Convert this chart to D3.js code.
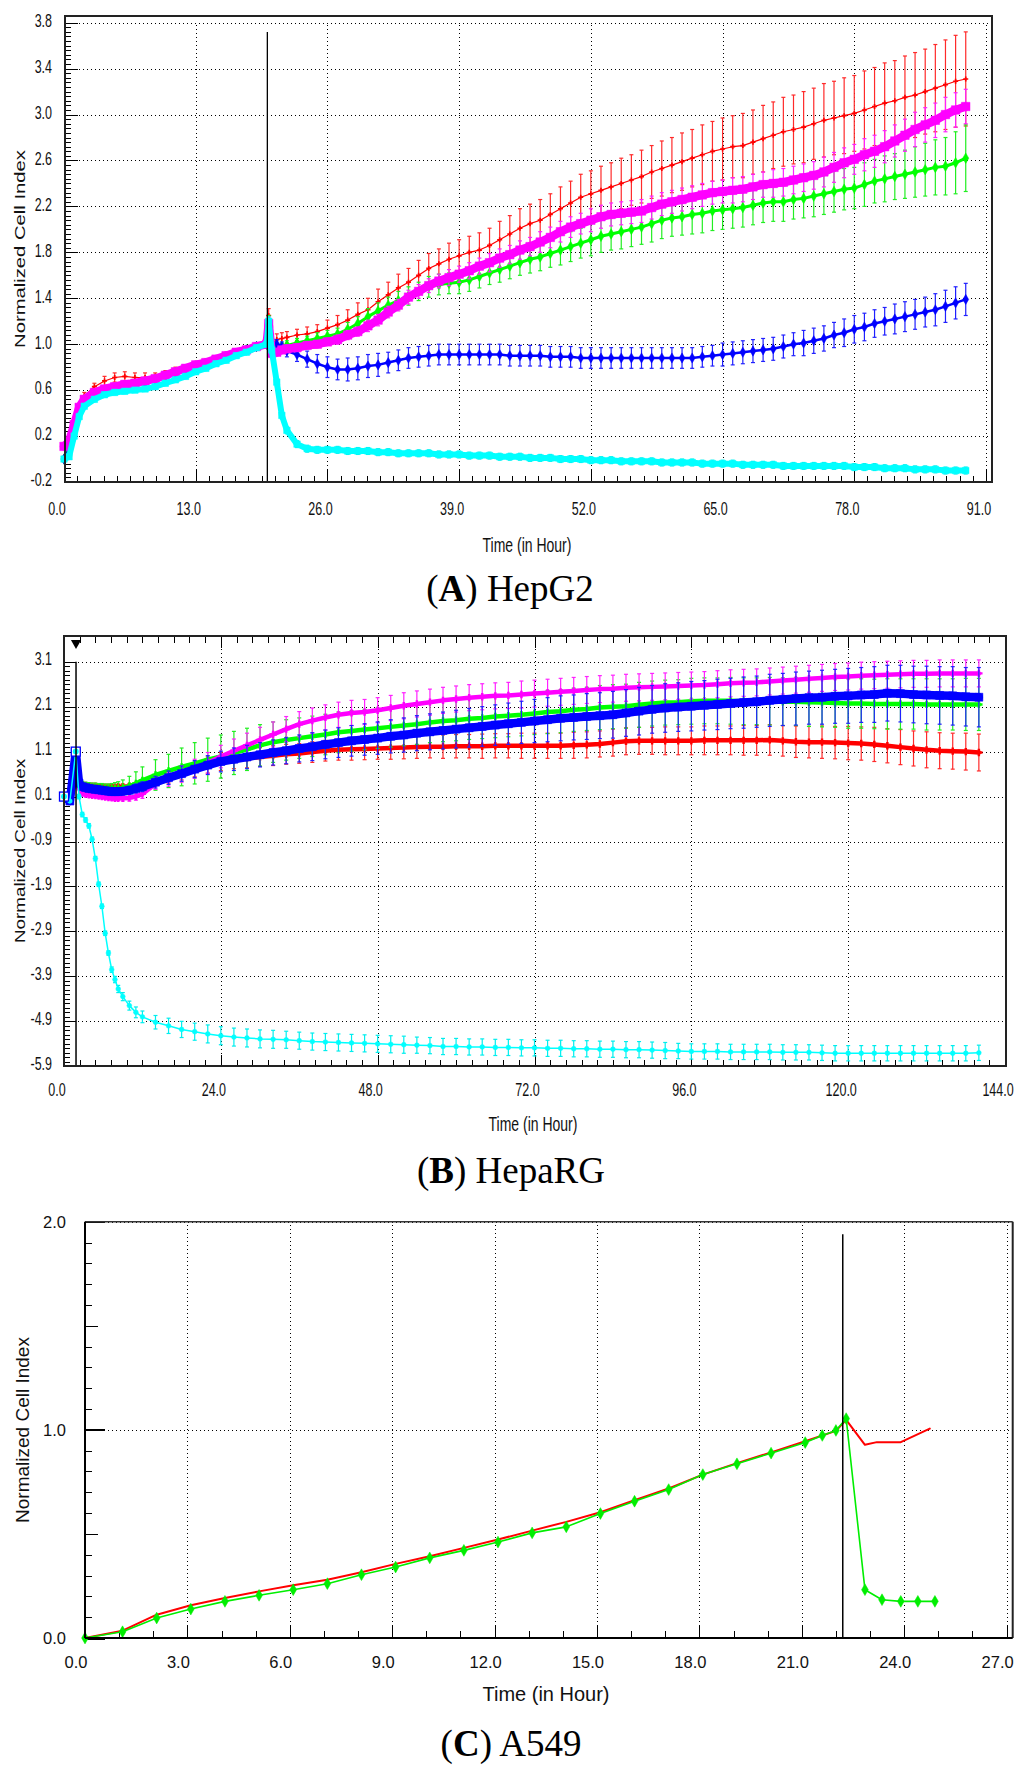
<!DOCTYPE html>
<html><head><meta charset="utf-8">
<script src="https://cdn.jsdelivr.net/npm/d3@7/dist/d3.min.js"></script>
<style>html,body{margin:0;padding:0;background:#fff}svg{display:block}</style>
</head><body>
<svg id="chart" width="1024" height="1768"></svg>
<script>
// ===================== DATA =====================
// ---- Panel A : HepG2 ----
const xTicksA = [0, 13, 26, 39, 52, 65, 78, 91];
const yTicksA = [-0.2, 0.2, 0.6, 1.0, 1.4, 1.8, 2.2, 2.6, 3.0, 3.4, 3.8];
const treatA = 20.07;
const tA = [0,0.5,1,1.5,2,
  3,4,5,6,7,8,9,10,11,12,13,14,15,16,17,18,19,
  20,20.2,20.5,21,21.5,
  22,23,24,25,26,27,28,29,30,31,
  32,33,34,35,36,37,38,39,40,41,
  42,43,44,45,46,47,48,49,50,51,
  52,53,54,55,56,57,58,59,60,61,
  62,63,64,65,66,67,68,69,70,71,
  72,73,74,75,76,77,78,79,80,81,
  82,83,84,85,86,87,88,89];
const redA = [0.0,0.12,0.3,0.45,0.55,
  0.63,0.68,0.71,0.72,0.71,0.71,0.72,0.74,0.77,0.79,0.82,0.84,0.87,0.9,0.92,0.95,0.98,
  1.0,1.25,1.0,1.04,1.05,
  1.06,1.08,1.09,1.11,1.14,1.17,1.21,1.26,1.3,1.37,
  1.43,1.49,1.54,1.6,1.66,1.7,1.74,1.77,1.8,1.82,
  1.86,1.91,1.96,2.01,2.05,2.08,2.13,2.18,2.23,2.28,
  2.31,2.34,2.37,2.4,2.43,2.46,2.5,2.53,2.56,2.59,
  2.62,2.65,2.68,2.7,2.72,2.73,2.76,2.79,2.82,2.85,
  2.87,2.89,2.92,2.95,2.97,2.99,3.01,3.04,3.07,3.1,
  3.12,3.15,3.17,3.2,3.23,3.26,3.29,3.31];
const redSdA = [0.01,0.02,0.03,0.03,0.03,
  0.03,0.04,0.04,0.04,0.04,0.04,0.03,0.03,0.03,0.03,0.03,0.03,0.03,0.03,0.03,0.03,0.03,
  0.02,0.06,0.04,0.05,0.05,
  0.05,0.05,0.06,0.06,0.07,0.08,0.09,0.1,0.1,0.11,
  0.11,0.12,0.12,0.13,0.13,0.13,0.14,0.14,0.14,0.15,
  0.15,0.16,0.16,0.17,0.17,0.18,0.18,0.19,0.19,0.2,
  0.2,0.21,0.21,0.22,0.22,0.23,0.23,0.24,0.24,0.25,
  0.25,0.26,0.26,0.27,0.27,0.28,0.28,0.29,0.29,0.3,
  0.3,0.31,0.31,0.32,0.32,0.33,0.33,0.34,0.34,0.35,
  0.35,0.36,0.37,0.37,0.38,0.39,0.4,0.41];
const magentaA = [0.11,0.15,0.3,0.45,0.52,
  0.58,0.61,0.63,0.65,0.66,0.68,0.7,0.73,0.76,0.79,0.82,0.84,0.87,0.9,0.93,0.95,0.98,
  1.0,1.18,0.92,0.93,0.95,
  0.96,0.97,0.99,1.0,1.02,1.04,1.08,1.11,1.16,1.21,
  1.28,1.34,1.41,1.46,1.51,1.55,1.58,1.61,1.64,1.68,
  1.71,1.75,1.78,1.82,1.85,1.89,1.93,1.98,2.02,2.05,
  2.08,2.11,2.13,2.14,2.15,2.16,2.19,2.22,2.24,2.26,
  2.28,2.3,2.32,2.33,2.34,2.35,2.37,2.39,2.4,2.41,
  2.43,2.45,2.47,2.5,2.54,2.58,2.61,2.65,2.68,2.72,
  2.77,2.82,2.87,2.91,2.95,3.0,3.04,3.07];
const magentaSdA = [0.01,0.02,0.02,0.02,0.02,
  0.02,0.02,0.02,0.02,0.02,0.02,0.02,0.02,0.02,0.02,0.02,0.02,0.02,0.02,0.02,0.02,0.02,
  0.02,0.05,0.03,0.03,0.03,
  0.03,0.03,0.03,0.03,0.03,0.04,0.04,0.04,0.05,0.05,
  0.05,0.05,0.06,0.06,0.06,0.06,0.07,0.07,0.07,0.07,
  0.08,0.08,0.08,0.08,0.08,0.09,0.09,0.09,0.09,0.09,
  0.1,0.1,0.1,0.1,0.1,0.1,0.1,0.1,0.1,0.1,
  0.1,0.1,0.1,0.1,0.11,0.11,0.11,0.11,0.12,0.12,
  0.12,0.12,0.12,0.13,0.13,0.13,0.13,0.14,0.14,0.14,
  0.14,0.14,0.15,0.15,0.15,0.15,0.15,0.15];
const greenA = [0.0,0.1,0.28,0.43,0.5,
  0.56,0.59,0.61,0.63,0.64,0.66,0.69,0.72,0.75,0.78,0.81,0.83,0.86,0.89,0.92,0.95,0.98,
  1.0,1.2,0.95,0.96,0.98,
  0.99,1.01,1.03,1.05,1.07,1.09,1.13,1.18,1.24,1.29,
  1.34,1.38,1.42,1.46,1.5,1.52,1.53,1.54,1.56,1.59,
  1.62,1.65,1.68,1.71,1.74,1.76,1.79,1.82,1.85,1.88,
  1.91,1.94,1.96,1.98,2.0,2.02,2.05,2.08,2.1,2.11,
  2.13,2.14,2.16,2.17,2.18,2.19,2.21,2.23,2.24,2.24,
  2.26,2.27,2.29,2.31,2.33,2.35,2.36,2.39,2.42,2.44,
  2.46,2.48,2.5,2.52,2.54,2.55,2.58,2.62];
const greenSdA = [0.01,0.02,0.02,0.02,0.02,
  0.02,0.02,0.02,0.02,0.02,0.02,0.02,0.02,0.02,0.02,0.02,0.02,0.02,0.02,0.02,0.02,0.02,
  0.02,0.05,0.03,0.03,0.03,
  0.04,0.04,0.04,0.05,0.05,0.05,0.06,0.06,0.07,0.07,
  0.07,0.08,0.08,0.08,0.09,0.09,0.09,0.1,0.1,0.1,
  0.1,0.11,0.11,0.11,0.12,0.12,0.12,0.13,0.13,0.13,
  0.14,0.14,0.14,0.15,0.15,0.15,0.16,0.16,0.16,0.16,
  0.17,0.17,0.17,0.17,0.17,0.17,0.17,0.17,0.17,0.17,
  0.17,0.17,0.18,0.18,0.18,0.18,0.18,0.19,0.19,0.2,
  0.2,0.21,0.22,0.23,0.24,0.25,0.27,0.29];
const blueA = [0.0,0.08,0.25,0.4,0.49,
  0.56,0.59,0.61,0.63,0.64,0.66,0.69,0.72,0.75,0.78,0.8,0.83,0.86,0.89,0.92,0.95,0.98,
  1.0,1.15,0.95,1.0,0.98,
  0.94,0.91,0.87,0.83,0.8,0.78,0.78,0.79,0.81,0.82,
  0.84,0.86,0.88,0.89,0.9,0.91,0.91,0.91,0.91,0.91,
  0.91,0.91,0.9,0.9,0.9,0.9,0.89,0.89,0.89,0.88,
  0.88,0.88,0.88,0.88,0.88,0.88,0.88,0.88,0.88,0.88,
  0.88,0.89,0.9,0.91,0.92,0.93,0.94,0.95,0.96,0.98,
  1.0,1.01,1.03,1.05,1.08,1.1,1.13,1.15,1.18,1.2,
  1.22,1.24,1.26,1.28,1.3,1.33,1.36,1.39];
const blueSdA = [0.01,0.02,0.02,0.02,0.02,
  0.02,0.02,0.02,0.02,0.02,0.02,0.02,0.02,0.02,0.02,0.02,0.02,0.02,0.02,0.02,0.02,0.02,
  0.02,0.04,0.03,0.04,0.04,
  0.05,0.06,0.07,0.08,0.09,0.09,0.1,0.1,0.1,0.1,
  0.09,0.09,0.09,0.09,0.09,0.09,0.09,0.09,0.09,0.09,
  0.09,0.09,0.09,0.09,0.09,0.09,0.09,0.09,0.09,0.09,
  0.09,0.09,0.09,0.09,0.09,0.09,0.09,0.09,0.09,0.09,
  0.09,0.09,0.09,0.1,0.1,0.1,0.1,0.1,0.1,0.1,
  0.1,0.11,0.11,0.11,0.11,0.12,0.12,0.12,0.12,0.12,
  0.13,0.13,0.13,0.13,0.14,0.14,0.14,0.14];
const cyanA = [0.0,0.02,0.2,0.37,0.46,
  0.52,0.56,0.58,0.59,0.6,0.61,0.63,0.66,0.69,0.72,0.76,0.79,0.83,0.86,0.9,0.93,0.97,
  1.0,1.2,0.95,0.67,0.38,
  0.25,0.13,0.09,0.08,0.08,0.08,0.07,0.07,0.07,0.06,
  0.06,0.05,0.05,0.05,0.05,0.04,0.04,0.04,0.03,0.03,
  0.03,0.02,0.02,0.02,0.01,0.01,0.01,0.0,0.0,0.0,
  -0.01,-0.01,-0.01,-0.02,-0.02,-0.02,-0.02,-0.03,-0.03,-0.03,
  -0.03,-0.04,-0.04,-0.04,-0.04,-0.05,-0.05,-0.05,-0.05,-0.06,
  -0.06,-0.06,-0.06,-0.06,-0.06,-0.06,-0.07,-0.07,-0.07,-0.08,
  -0.08,-0.08,-0.09,-0.09,-0.09,-0.1,-0.1,-0.1];
const cyanSdA = [0.01,0.01,0.02,0.02,0.02,
  0.02,0.02,0.02,0.02,0.02,0.02,0.02,0.02,0.02,0.02,0.02,0.02,0.02,0.02,0.02,0.02,0.02,
  0.02,0.04,0.04,0.04,0.03,
  0.03,0.03,0.03,0.03,0.03,0.03,0.03,0.03,0.03,0.03,
  0.03,0.03,0.03,0.03,0.03,0.03,0.03,0.03,0.03,0.03,
  0.03,0.03,0.03,0.03,0.03,0.03,0.03,0.03,0.03,0.03,
  0.03,0.03,0.03,0.03,0.03,0.03,0.03,0.03,0.03,0.03,
  0.03,0.03,0.03,0.03,0.03,0.03,0.03,0.03,0.03,0.03,
  0.03,0.03,0.03,0.03,0.03,0.03,0.03,0.03,0.03,0.03,
  0.03,0.03,0.03,0.03,0.03,0.03,0.03,0.03];

// ---- Panel B : HepaRG ----
const xTicksB = [0, 24, 48, 72, 96, 120, 144];
const yTicksB = [-5.9, -4.9, -3.9, -2.9, -1.9, -0.9, 0.1, 1.1, 2.1, 3.1];
const treatB = 1.84;
const tB = [0,0.9,1.8,2.3,2.8,3.3,3.8,4.3,4.8,5.3,5.8,6.3,6.8,7.3,7.8,8.3,9,10,11,12,
  14,16,18,20,22,24,26,28,30,32,
  34,36,38,40,42,44,46,48,50,52,
  54,56,58,60,62,64,66,68,70,72,
  74,76,78,80,82,84,86,88,90,92,
  94,96,98,100,102,104,106,108,110,112,
  114,116,118,120,122,124,126,128,130,132,
  134,136,138,140];
const redB = [0.1,0.0,1.1,0.4,0.36,0.35,0.34,0.33,0.33,0.32,0.32,0.31,0.31,0.31,0.31,0.32,0.32,0.33,0.35,0.38,
  0.44,0.52,0.61,0.7,0.8,0.88,0.92,0.95,0.98,1.01,
  1.04,1.06,1.09,1.12,1.14,1.15,1.16,1.17,1.18,1.19,
  1.2,1.21,1.21,1.22,1.22,1.22,1.23,1.23,1.23,1.23,
  1.23,1.23,1.24,1.25,1.27,1.3,1.33,1.34,1.34,1.34,
  1.34,1.34,1.35,1.35,1.35,1.35,1.35,1.36,1.34,1.32,
  1.31,1.31,1.3,1.29,1.28,1.26,1.23,1.2,1.17,1.14,
  1.12,1.11,1.1,1.08];
const redSdB = [0.02,0.02,0.05,0.05,0.05,0.05,0.05,0.05,0.05,0.05,0.05,0.05,0.05,0.05,0.05,0.05,0.06,0.06,0.07,0.08,
  0.1,0.12,0.14,0.16,0.18,0.2,0.2,0.21,0.21,0.22,
  0.22,0.22,0.23,0.23,0.23,0.24,0.24,0.24,0.25,0.25,
  0.25,0.25,0.26,0.26,0.26,0.27,0.27,0.27,0.28,0.28,
  0.28,0.28,0.29,0.29,0.29,0.3,0.3,0.3,0.3,0.31,
  0.31,0.31,0.32,0.32,0.32,0.33,0.33,0.34,0.34,0.35,
  0.35,0.36,0.36,0.37,0.37,0.38,0.38,0.39,0.39,0.4,
  0.4,0.4,0.41,0.41];
const greenB = [0.1,0.0,1.1,0.4,0.34,0.32,0.31,0.3,0.3,0.29,0.29,0.28,0.28,0.27,0.27,0.27,0.29,0.33,0.39,0.46,
  0.58,0.67,0.76,0.84,0.92,0.99,1.07,1.15,1.24,1.31,
  1.36,1.4,1.44,1.48,1.53,1.56,1.59,1.62,1.65,1.68,
  1.71,1.75,1.78,1.8,1.83,1.85,1.88,1.9,1.92,1.95,
  1.98,2.0,2.03,2.05,2.08,2.1,2.11,2.14,2.17,2.19,
  2.2,2.22,2.23,2.23,2.23,2.22,2.22,2.22,2.21,2.21,
  2.2,2.19,2.18,2.17,2.17,2.16,2.16,2.16,2.16,2.15,
  2.15,2.15,2.15,2.15];
const greenSdB = [0.02,0.02,0.05,0.08,0.1,0.1,0.1,0.1,0.1,0.1,0.1,0.1,0.1,0.12,0.14,0.16,0.18,0.22,0.26,0.3,
  0.34,0.37,0.42,0.46,0.48,0.48,0.48,0.47,0.46,0.45,
  0.45,0.45,0.45,0.45,0.45,0.45,0.45,0.45,0.45,0.45,
  0.45,0.45,0.46,0.46,0.46,0.46,0.47,0.47,0.47,0.47,
  0.48,0.48,0.48,0.48,0.49,0.49,0.49,0.5,0.5,0.5,
  0.5,0.51,0.51,0.51,0.52,0.52,0.52,0.53,0.53,0.53,
  0.54,0.54,0.54,0.55,0.55,0.55,0.56,0.56,0.56,0.57,
  0.57,0.57,0.58,0.58];
const blueB = [0.1,0.0,1.1,0.4,0.32,0.3,0.28,0.27,0.26,0.25,0.24,0.23,0.22,0.21,0.21,0.21,0.22,0.24,0.28,0.32,
  0.42,0.52,0.61,0.71,0.8,0.88,0.93,0.98,1.03,1.08,
  1.12,1.17,1.21,1.26,1.3,1.34,1.37,1.4,1.44,1.47,
  1.51,1.54,1.57,1.6,1.63,1.66,1.69,1.72,1.75,1.78,
  1.81,1.84,1.86,1.88,1.9,1.92,1.96,2.0,2.04,2.07,
  2.09,2.11,2.13,2.15,2.17,2.19,2.21,2.24,2.26,2.28,
  2.3,2.31,2.33,2.34,2.36,2.37,2.4,2.39,2.37,2.36,
  2.35,2.34,2.32,2.31];
const blueSdB = [0.02,0.02,0.05,0.06,0.06,0.06,0.06,0.06,0.06,0.06,0.06,0.06,0.06,0.07,0.07,0.08,0.08,0.09,0.1,0.11,
  0.13,0.15,0.17,0.19,0.21,0.23,0.25,0.26,0.27,0.28,
  0.29,0.3,0.31,0.32,0.33,0.34,0.35,0.36,0.37,0.38,
  0.39,0.4,0.41,0.42,0.43,0.44,0.45,0.46,0.47,0.48,
  0.49,0.5,0.5,0.51,0.51,0.52,0.52,0.53,0.53,0.54,
  0.54,0.55,0.55,0.56,0.56,0.57,0.57,0.58,0.58,0.59,
  0.59,0.6,0.6,0.61,0.61,0.62,0.62,0.63,0.63,0.64,
  0.64,0.65,0.65,0.66];
const magentaB = [0.1,0.0,1.1,0.3,0.17,0.15,0.14,0.13,0.12,0.11,0.1,0.09,0.08,0.07,0.06,0.06,0.06,0.07,0.1,0.16,
  0.38,0.48,0.6,0.72,0.85,0.99,1.12,1.24,1.36,1.48,
  1.6,1.71,1.79,1.86,1.92,1.96,1.98,2.02,2.07,2.12,
  2.16,2.2,2.24,2.27,2.3,2.32,2.34,2.35,2.37,2.39,
  2.41,2.43,2.45,2.47,2.49,2.5,2.52,2.53,2.54,2.55,
  2.56,2.57,2.58,2.6,2.62,2.63,2.64,2.66,2.68,2.7,
  2.72,2.74,2.76,2.77,2.79,2.8,2.81,2.82,2.83,2.83,
  2.84,2.84,2.84,2.84];
const magentaSdB = [0.02,0.02,0.05,0.05,0.05,0.05,0.05,0.05,0.05,0.05,0.05,0.05,0.05,0.05,0.05,0.05,0.06,0.07,0.08,0.1,
  0.12,0.15,0.18,0.21,0.23,0.25,0.26,0.27,0.28,0.28,
  0.28,0.28,0.28,0.28,0.28,0.28,0.28,0.28,0.28,0.29,
  0.29,0.29,0.29,0.29,0.29,0.29,0.29,0.29,0.3,0.3,
  0.3,0.3,0.3,0.3,0.3,0.3,0.3,0.3,0.3,0.3,
  0.3,0.3,0.3,0.3,0.3,0.3,0.3,0.3,0.3,0.3,
  0.3,0.3,0.3,0.3,0.3,0.3,0.3,0.3,0.3,0.3,
  0.3,0.3,0.3,0.3];
const cyanB = [0.1,0.0,1.1,0.1,-0.3,-0.42,-0.55,-0.85,-1.28,-1.85,-2.34,-2.94,-3.38,-3.75,-3.97,-4.18,-4.35,-4.55,-4.7,-4.8,
  -4.92,-5.0,-5.08,-5.13,-5.18,-5.22,-5.25,-5.27,-5.29,-5.3,
  -5.31,-5.33,-5.35,-5.36,-5.37,-5.38,-5.39,-5.4,-5.41,-5.42,
  -5.43,-5.44,-5.46,-5.46,-5.47,-5.47,-5.48,-5.48,-5.49,-5.49,
  -5.5,-5.5,-5.51,-5.51,-5.52,-5.52,-5.53,-5.53,-5.54,-5.55,
  -5.56,-5.57,-5.57,-5.57,-5.58,-5.58,-5.58,-5.58,-5.59,-5.59,
  -5.59,-5.6,-5.61,-5.61,-5.61,-5.61,-5.61,-5.61,-5.61,-5.61,
  -5.61,-5.61,-5.61,-5.6];
const cyanSdB = [0.02,0.02,0.05,0.05,0.05,0.05,0.05,0.05,0.05,0.05,0.05,0.05,0.05,0.06,0.07,0.08,0.09,0.1,0.12,0.13,
  0.15,0.17,0.18,0.19,0.2,0.2,0.2,0.2,0.2,0.2,
  0.19,0.19,0.19,0.19,0.19,0.19,0.19,0.19,0.19,0.19,
  0.18,0.18,0.18,0.18,0.18,0.18,0.18,0.18,0.18,0.18,
  0.18,0.18,0.18,0.18,0.18,0.18,0.18,0.18,0.18,0.18,
  0.17,0.17,0.17,0.17,0.17,0.17,0.17,0.17,0.17,0.17,
  0.17,0.17,0.17,0.17,0.17,0.17,0.17,0.17,0.17,0.17,
  0.17,0.17,0.17,0.17];

// ---- Panel C : A549 ----
const xTicksC = [0, 3, 6, 9, 12, 15, 18, 21, 24, 27];
const yTicksC = [0.0, 1.0, 2.0];
const treatC = 22.2;
const tRedC = [0,1.1,2.1,3.1,4.1,5.1,6.1,7.1,8.1,9.1,10.1,11.1,12.1,13.1,14.1,15.1,16.1,17.1,18.1,19.1,20.1,21.1,22.0,22.3,22.85,23.2,23.9,24.75];
const redC = [0,0.035,0.112,0.157,0.192,0.224,0.253,0.28,0.316,0.356,0.393,0.433,0.473,0.516,0.558,0.604,0.662,0.718,0.785,0.84,0.892,0.945,0.995,1.048,0.928,0.941,0.941,1.006];
const tGreenC = [0,1.1,2.1,3.1,4.1,5.1,6.1,7.1,8.1,9.1,10.1,11.1,12.1,13.1,14.1,15.1,16.1,17.1,18.1,19.1,20.1,21.1,21.6,22.0,22.3,22.85,23.35,23.9,24.4,24.9];
const greenC = [0,0.03,0.096,0.139,0.176,0.205,0.232,0.261,0.304,0.341,0.385,0.421,0.461,0.505,0.534,0.598,0.657,0.713,0.785,0.837,0.888,0.939,0.973,0.997,1.054,0.232,0.184,0.176,0.176,0.176];

// ===================== DRAWING =====================
const SANS = '"Liberation Sans", Arial, Helvetica, sans-serif';
const SERIF = '"Liberation Serif", "Times New Roman", serif';
const svg = d3.select('#chart');
svg.append('rect').attr('width', 1024).attr('height', 1768).attr('fill', '#fff');

function txt(g, x, y, s, o) {
  return g.append('text')
    .attr('transform', `translate(${x},${y})` + (o.rotate ? ` rotate(${o.rotate})` : '') + ` scale(${o.sx || 1},${o.sy || 1})`)
    .attr('text-anchor', o.anchor || 'middle')
    .attr('dominant-baseline', o.baseline || 'alphabetic')
    .style('font-family', o.family || SANS)
    .style('font-size', o.size + 'px')
    .attr('fill', '#111')
    .text(s);
}
function caption(g, x, y, letter, rest) {
  const t = g.append('text').attr('x', x).attr('y', y).attr('text-anchor', 'middle')
    .style('font-family', SERIF).style('font-size', '37px').attr('fill', '#000');
  t.append('tspan').text('(');
  t.append('tspan').style('font-weight', 'bold').text(letter);
  t.append('tspan').text(') ' + rest);
}
function tickStyle(sel, w) {
  sel.select('.domain').remove();
  sel.selectAll('.tick line').attr('stroke', '#000').attr('stroke-width', w || 1).attr('shape-rendering', 'crispEdges');
}
function gridStyle(sel) {
  sel.select('.domain').remove();
  sel.selectAll('.tick line').attr('stroke', '#000').attr('stroke-width', 1)
    .attr('stroke-dasharray', '1,3').attr('shape-rendering', 'crispEdges');
}
const fmt = v => v.toFixed(1);

function drawSeries(g, x, y, t, v, sd, st) {
  const sg = g.append('g');
  const idx = d3.range(v.length);
  if (sd) {
    const eb = sg.append('g').attr('stroke', st.bar || st.color).attr('stroke-width', st.barW || 1).attr('fill', 'none');
    eb.selectAll('line.v').data(idx).join('line').attr('class', 'v')
      .attr('x1', i => x(t[i])).attr('x2', i => x(t[i]))
      .attr('y1', i => y(v[i] - sd[i])).attr('y2', i => y(v[i] + sd[i]));
    const cw = st.cap || 2;
    eb.selectAll('line.ct').data(idx).join('line').attr('class', 'ct')
      .attr('x1', i => x(t[i]) - cw).attr('x2', i => x(t[i]) + cw)
      .attr('y1', i => y(v[i] + sd[i])).attr('y2', i => y(v[i] + sd[i]));
    eb.selectAll('line.cb').data(idx).join('line').attr('class', 'cb')
      .attr('x1', i => x(t[i]) - cw).attr('x2', i => x(t[i]) + cw)
      .attr('y1', i => y(v[i] - sd[i])).attr('y2', i => y(v[i] - sd[i]));
  }
  const line = d3.line().x((d, i) => x(t[i])).y(d => y(d));
  sg.append('path').datum(v).attr('d', line).attr('fill', 'none')
    .attr('stroke', st.color).attr('stroke-width', st.lw).attr('stroke-linejoin', 'round').attr('stroke-linecap', 'round');
  if (st.symbol) {
    const sym = d3.symbol().type(st.symbol).size(st.size);
    sg.selectAll('path.m').data(idx).join('path').attr('class', 'm')
      .attr('transform', i => `translate(${x(t[i])},${y(v[i])})`)
      .attr('d', sym)
      .attr('fill', st.hollow ? 'none' : st.color)
      .attr('stroke', st.color).attr('stroke-width', st.symbol === d3.symbolCross ? 0 : 0.5);
  }
}

// ---------- Panel A ----------
(function () {
  const g = svg.append('g');
  const F = { l: 65, t: 15.7, r: 992, b: 482 };
  const x = d3.scaleLinear().domain([0, 91]).range([64, 986]);
  const y = d3.scaleLinear().domain([-0.2, 3.8]).range([482, 22.7]);
  g.append('g').attr('transform', `translate(0,${F.b})`)
    .call(d3.axisBottom(x).tickValues(xTicksA.slice(1)).tickSize(-(F.b - y(3.8))).tickFormat('')).call(gridStyle);
  g.append('g').attr('transform', `translate(${F.r},0)`)
    .call(d3.axisLeft(y).tickValues(yTicksA.slice(1)).tickSize(F.r - F.l).tickFormat('')).call(gridStyle);
  g.append('g').attr('transform', `translate(${F.l},0)`)
    .call(d3.axisRight(y).tickValues(d3.range(101).map(i => -0.2 + i * 0.04)).tickSize(6).tickFormat('')).call(tickStyle);
  g.append('g').attr('transform', `translate(${F.l},0)`)
    .call(d3.axisRight(y).tickValues(yTicksA).tickSize(13).tickFormat('')).call(tickStyle);
  g.append('g').attr('transform', `translate(0,${F.b})`)
    .call(d3.axisTop(x).tickValues(d3.range(71).map(i => i * 1.3)).tickSize(6).tickFormat('')).call(tickStyle);
  g.append('g').attr('transform', `translate(0,${F.b})`)
    .call(d3.axisTop(x).tickValues(xTicksA).tickSize(13).tickFormat('')).call(tickStyle);
  const series = [
    [redA, redSdA, { color: '#ff0000', bar: '#ff2a2a', lw: 1.2, symbol: d3.symbolCross, size: 14, barW: 1.2, cap: 2 }],
    [greenA, greenSdA, { color: '#00ff00', bar: '#22ee22', lw: 3, symbol: d3.symbolDiamond, size: 32, barW: 1.2, cap: 2 }],
    [blueA, blueSdA, { color: '#0000ff', bar: '#2020ff', lw: 2.5, symbol: d3.symbolDiamond, size: 30, barW: 1.2, cap: 2 }],
    [magentaA, magentaSdA, { color: '#ff00ff', bar: '#ff22ff', lw: 8.5, symbol: d3.symbolSquare, size: 72, barW: 1.2, cap: 2 }],
    [cyanA, cyanSdA, { color: '#00ffff', bar: '#00eeee', lw: 6, symbol: d3.symbolSquare, size: 42, barW: 1.2, cap: 2 }]
  ];
  series.forEach(s => drawSeries(g, x, y, tA, s[0], s[1], s[2]));
  g.append('line').attr('x1', x(treatA)).attr('x2', x(treatA)).attr('y1', y(3.72)).attr('y2', F.b)
    .attr('stroke', '#000').attr('stroke-width', 1.3);
  g.append('rect').attr('x', F.l).attr('y', F.t).attr('width', F.r - F.l).attr('height', F.b - F.t)
    .attr('fill', 'none').attr('stroke', '#222').attr('stroke-width', 2).attr('shape-rendering', 'crispEdges');
  yTicksA.forEach(v => txt(g, 52, y(v) - 2, fmt(v), { size: 12.5, sy: 1.4, anchor: 'end', baseline: 'central' }));
  xTicksA.forEach(v => txt(g, x(v) - 7, 509, fmt(v), { size: 12.5, sy: 1.4, baseline: 'central' }));
  txt(g, 527, 552, 'Time (in Hour)', { size: 14, sy: 1.5 });
  txt(g, 25, 249, 'Normalized Cell Index', { size: 15, rotate: -90, sx: 1.35 });
  caption(g, 510, 601, 'A', 'HepG2');
})();

// ---------- Panel B ----------
(function () {
  const g = svg.append('g');
  const F = { l: 64, t: 636, r: 1005.5, b: 1066 };
  const x = d3.scaleLinear().domain([0, 144]).range([64, 1005]);
  const y = d3.scaleLinear().domain([-5.9, 3.1]).range([1066.3, 661.7]);
  g.append('g').attr('transform', `translate(0,${F.b})`)
    .call(d3.axisBottom(x).tickValues(xTicksB.slice(1, -1)).tickSize(-(F.b - F.t)).tickFormat('')).call(gridStyle);
  g.append('g').attr('transform', `translate(${F.r - 3},0)`)
    .call(d3.axisLeft(y).tickValues(yTicksB.slice(1)).tickSize(F.r - 3 - x(treatB)).tickFormat('')).call(gridStyle);
  g.append('g').attr('transform', `translate(${F.l},0)`)
    .call(d3.axisRight(y).tickValues(d3.range(91).map(i => -5.9 + i * 0.1)).tickSize(6).tickFormat('')).call(tickStyle);
  g.append('g').attr('transform', `translate(${F.l},0)`)
    .call(d3.axisRight(y).tickValues(yTicksB).tickSize(12).tickFormat('')).call(tickStyle);
  const minorX = d3.range(61).map(i => i * 2.4);
  g.append('g').attr('transform', `translate(0,${F.b})`)
    .call(d3.axisTop(x).tickValues(minorX).tickSize(6).tickFormat('')).call(tickStyle);
  g.append('g').attr('transform', `translate(0,${F.b})`)
    .call(d3.axisTop(x).tickValues(xTicksB).tickSize(11).tickFormat('')).call(tickStyle);
  g.append('g').attr('transform', `translate(0,${F.t})`)
    .call(d3.axisBottom(x).tickValues(minorX).tickSize(7).tickFormat('')).call(tickStyle);
  g.append('g').attr('transform', `translate(0,${F.t})`)
    .call(d3.axisBottom(x).tickValues(xTicksB).tickSize(12).tickFormat('')).call(tickStyle);
  const series = [
    [redB, redSdB, { color: '#ff0000', bar: '#ff2a2a', lw: 4.5, symbol: d3.symbolCross, size: 30, barW: 1.2, cap: 2 }],
    [greenB, greenSdB, { color: '#00ff00', bar: '#22ee22', lw: 4.5, symbol: d3.symbolCross, size: 30, barW: 1.2, cap: 2 }],
    [magentaB, magentaSdB, { color: '#ff00ff', bar: '#ff22ff', lw: 4.5, symbol: d3.symbolCross, size: 30, barW: 1.2, cap: 2 }],
    [blueB, blueSdB, { color: '#0000ff', bar: '#2020ff', lw: 8.5, symbol: d3.symbolSquare, size: 64, barW: 1.2, cap: 2 }],
    [cyanB, cyanSdB, { color: '#00ffff', bar: '#00eeee', lw: 1.5, symbol: d3.symbolCircle, size: 18, barW: 1.2, cap: 2 }]
  ];
  series.forEach(s => drawSeries(g, x, y, tB, s[0], s[1], s[2]));
  [0, 2].forEach(i => {
    g.append('rect').attr('x', x(tB[i]) - 4.5).attr('y', y(cyanB[i]) - 4.5).attr('width', 9).attr('height', 9)
      .attr('fill', '#fff').attr('stroke', '#0000ff').attr('stroke-width', 1.3);
    g.append('circle').attr('cx', x(tB[i])).attr('cy', y(cyanB[i])).attr('r', 3).attr('fill', '#00ffff');
  });
  g.append('line').attr('x1', x(treatB)).attr('x2', x(treatB)).attr('y1', y(3.1)).attr('y2', F.b)
    .attr('stroke', '#000').attr('stroke-width', 1.5);
  g.append('path').attr('d', d3.symbol().type(d3.symbolTriangle).size(45)())
    .attr('transform', `translate(${x(treatB)},${F.t + 7}) rotate(180)`).attr('fill', '#000');
  g.append('rect').attr('x', F.l).attr('y', F.t).attr('width', F.r - F.l).attr('height', F.b - F.t)
    .attr('fill', 'none').attr('stroke', '#222').attr('stroke-width', 2).attr('shape-rendering', 'crispEdges');
  yTicksB.forEach(v => txt(g, 52, y(v) - 3, fmt(v), { size: 12.5, sy: 1.4, anchor: 'end', baseline: 'central' }));
  xTicksB.forEach(v => txt(g, x(v) - 7, 1090, fmt(v), { size: 12.5, sy: 1.4, baseline: 'central' }));
  txt(g, 533, 1131, 'Time (in Hour)', { size: 14, sy: 1.5 });
  txt(g, 25, 851, 'Normalized Cell Index', { size: 14.5, rotate: -90, sx: 1.3 });
  caption(g, 511, 1183, 'B', 'HepaRG');
})();

// ---------- Panel C ----------
(function () {
  const g = svg.append('g');
  const F = { l: 85, t: 1221.7, r: 1012.7, b: 1638 };
  const x = d3.scaleLinear().domain([0, 27]).range([85, 1006.6]);
  const y = d3.scaleLinear().domain([0, 2]).range([1638, 1221.7]);
  g.append('g').attr('transform', `translate(0,${F.b})`)
    .call(d3.axisBottom(x).tickValues(xTicksC.slice(1)).tickSize(-(F.b - F.t)).tickFormat('')).call(gridStyle);
  g.append('g').attr('transform', `translate(${F.r},0)`)
    .call(d3.axisLeft(y).tickValues(yTicksC.slice(1)).tickSize(F.r - F.l).tickFormat('')).call(gridStyle);
  g.append('g').attr('transform', `translate(${F.l},0)`)
    .call(d3.axisRight(y).tickValues(d3.range(21).map(i => i * 0.1)).tickSize(7).tickFormat('')).call(tickStyle);
  g.append('g').attr('transform', `translate(${F.l},0)`)
    .call(d3.axisRight(y).tickValues([0.5, 1.5]).tickSize(13).tickFormat('')).call(tickStyle);
  g.append('g').attr('transform', `translate(${F.l},0)`)
    .call(d3.axisRight(y).tickValues(yTicksC).tickSize(20).tickFormat('')).call(t => tickStyle(t, 2));
  g.append('g').attr('transform', `translate(0,${F.b})`)
    .call(d3.axisTop(x).tickValues(d3.range(28)).tickSize(7).tickFormat('')).call(tickStyle);
  g.append('g').attr('transform', `translate(0,${F.b})`)
    .call(d3.axisTop(x).tickValues(xTicksC).tickSize(13).tickFormat('')).call(tickStyle);
  drawSeries(g, x, y, tRedC, redC, null, { color: '#ff0000', lw: 2 });
  drawSeries(g, x, y, tGreenC, greenC, null, { color: '#00ee00', lw: 1.6, symbol: d3.symbolDiamond, size: 40 });
  g.append('line').attr('x1', x(treatC)).attr('x2', x(treatC)).attr('y1', y(1.94)).attr('y2', F.b)
    .attr('stroke', '#000').attr('stroke-width', 1.5);
  g.append('line').attr('x1', F.l).attr('x2', F.r).attr('y1', F.t).attr('y2', F.t).attr('stroke', '#333').attr('stroke-width', 1.5);
  g.append('line').attr('x1', F.r).attr('x2', F.r).attr('y1', F.t).attr('y2', F.b).attr('stroke', '#222').attr('stroke-width', 2);
  g.append('line').attr('x1', F.l).attr('x2', F.r).attr('y1', F.b).attr('y2', F.b).attr('stroke', '#000').attr('stroke-width', 2);
  g.append('line').attr('x1', F.l).attr('x2', F.l).attr('y1', F.t).attr('y2', F.b).attr('stroke', '#000').attr('stroke-width', 2);
  yTicksC.forEach(v => txt(g, 66, y(v), fmt(v), { size: 16.5, anchor: 'end', baseline: 'central' }));
  xTicksC.forEach(v => txt(g, x(v) - 9, 1662, fmt(v), { size: 16.5, baseline: 'central' }));
  txt(g, 546, 1701, 'Time (in Hour)', { size: 20 });
  txt(g, 29, 1430, 'Normalized Cell Index', { size: 19, rotate: -90 });
  caption(g, 511, 1756, 'C', 'A549');
})();
</script>
</body></html>
